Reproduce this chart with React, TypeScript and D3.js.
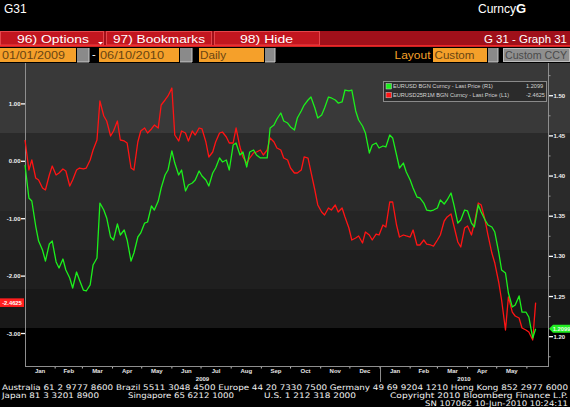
import React from "react";
import * as d3 from "d3";

// ---- DATA ----
const dates: string[] = [
  "2009-01-01","2009-01-05","2009-01-08","2009-01-12","2009-01-15","2009-01-19","2009-01-22","2009-01-26","2009-01-29",
  "2009-02-02","2009-02-05","2009-02-09","2009-02-12","2009-02-16","2009-02-19","2009-02-23","2009-02-26",
  "2009-03-02","2009-03-05","2009-03-09","2009-03-12","2009-03-16","2009-03-19","2009-03-23","2009-03-26","2009-03-30",
  "2009-04-02","2009-04-06","2009-04-09","2009-04-13","2009-04-16","2009-04-20","2009-04-23","2009-04-27","2009-04-30",
  "2009-05-04","2009-05-07","2009-05-11","2009-05-14","2009-05-18","2009-05-21","2009-05-25","2009-05-28",
  "2009-06-01","2009-06-04","2009-06-08","2009-06-11","2009-06-15","2009-06-18","2009-06-22","2009-06-25","2009-06-29",
  "2009-07-02","2009-07-06","2009-07-09","2009-07-13","2009-07-16","2009-07-20","2009-07-23","2009-07-27","2009-07-30",
  "2009-08-03","2009-08-06","2009-08-10","2009-08-13","2009-08-17","2009-08-20","2009-08-24","2009-08-27","2009-08-31",
  "2009-09-03","2009-09-07","2009-09-10","2009-09-14","2009-09-17","2009-09-21","2009-09-24","2009-09-28",
  "2009-10-01","2009-10-05","2009-10-08","2009-10-12","2009-10-15","2009-10-19","2009-10-22","2009-10-26","2009-10-29",
  "2009-11-02","2009-11-05","2009-11-09","2009-11-12","2009-11-16","2009-11-19","2009-11-23","2009-11-26","2009-11-30",
  "2009-12-03","2009-12-07","2009-12-10","2009-12-14","2009-12-17","2009-12-21","2009-12-24","2009-12-28","2009-12-31",
  "2010-01-04","2010-01-07","2010-01-11","2010-01-14","2010-01-18","2010-01-21","2010-01-25","2010-01-28",
  "2010-02-01","2010-02-04","2010-02-08","2010-02-11","2010-02-15","2010-02-18","2010-02-22","2010-02-25",
  "2010-03-01","2010-03-04","2010-03-08","2010-03-11","2010-03-15","2010-03-18","2010-03-22","2010-03-25","2010-03-29",
  "2010-04-01","2010-04-05","2010-04-08","2010-04-12","2010-04-15","2010-04-19","2010-04-22","2010-04-26","2010-04-29",
  "2010-05-03","2010-05-06","2010-05-10","2010-05-13","2010-05-17","2010-05-20","2010-05-24","2010-05-27","2010-05-31",
  "2010-06-03","2010-06-07","2010-06-10",
];

// EURUSD BGN Curncy - Last Price (right axis)
const eurusd: number[] = [
  1.4137,1.3727,1.3689,1.3378,1.3191,1.3079,1.2942,1.3154,1.3191,
  1.2930,1.2855,1.2967,1.2830,1.2731,1.2606,1.2805,1.2706,
  1.2581,1.2569,1.2644,1.2893,1.2980,1.3664,1.3577,1.3478,1.3241,
  1.3204,1.3403,1.3266,1.3328,1.3204,1.2942,1.3042,1.3241,1.3291,
  1.3415,1.3428,1.3627,1.3577,1.3689,1.3851,1.4013,1.4075,
  1.4312,1.4162,1.4013,1.4075,1.3814,1.3889,1.3913,1.3951,1.4063,
  1.4001,1.3951,1.3876,1.4038,1.4100,1.4225,1.4175,1.4200,1.4075,
  1.4386,1.4411,1.4262,1.4299,1.4113,1.4299,1.4324,1.4262,1.4225,
  1.4225,1.4225,1.4598,1.4635,1.4710,1.4785,1.4685,1.4660,
  1.4611,1.4573,1.4723,1.4810,1.4884,1.4947,1.4984,1.4847,1.4723,
  1.4760,1.4847,1.4984,1.4972,1.4947,1.4909,1.4922,1.5071,1.5059,
  1.5071,1.4810,1.4698,1.4623,1.4536,1.4287,1.4386,1.4411,1.4349,
  1.4374,1.4362,1.4511,1.4474,1.4262,1.4100,1.4162,1.4050,
  1.3951,1.3851,1.3739,1.3727,1.3664,1.3577,1.3565,1.3577,
  1.3602,1.3702,1.3652,1.3702,1.3789,1.3640,1.3415,1.3453,1.3577,
  1.3565,1.3415,1.3366,1.3640,1.3552,1.3453,1.3391,1.3366,1.3303,
  1.3054,1.2830,1.2793,1.2544,1.2370,1.2395,1.2507,1.2307,1.2307,
  1.2245,1.1984,1.2099,
];

// EURUSD25R1M BGN Curncy - Last Price (left axis)
const rr25: number[] = [
  0.371,-0.152,0.023,-0.291,-0.326,-0.465,-0.500,-0.239,-0.082,
  -0.239,-0.204,-0.134,-0.169,-0.430,-0.326,-0.152,-0.117,
  -0.134,-0.117,0.023,0.197,0.371,1.051,0.789,0.702,0.441,
  0.528,0.702,0.371,0.354,0.319,-0.117,-0.152,0.336,0.528,
  0.580,0.493,0.563,0.632,0.580,0.981,1.068,1.138,
  1.277,0.458,0.354,0.528,0.493,0.354,0.528,0.458,0.580,
  0.563,0.336,0.075,0.162,0.336,0.493,0.510,0.423,0.319,
  0.319,0.580,0.249,0.075,-0.030,0.057,0.145,0.162,0.197,
  0.110,0.197,0.406,0.336,0.232,0.197,0.057,0.023,
  -0.117,-0.204,-0.204,-0.152,0.075,0.057,-0.186,-0.500,-0.761,
  -0.883,-0.936,-0.814,-0.848,-0.761,-0.883,-0.814,-0.970,-1.162,
  -1.371,-1.336,-1.301,-1.423,-1.232,-1.284,-1.371,-1.267,-1.284,
  -1.110,-1.145,-0.709,-0.709,-1.110,-1.319,-1.284,-1.300,
  -1.319,-1.197,-1.458,-1.458,-1.371,-1.441,-1.458,-1.476,
  -1.371,-1.284,-1.040,-0.970,-0.918,-1.127,-1.406,-1.493,-1.162,
  -1.127,-1.284,-1.075,-0.727,-0.761,-1.023,-1.284,-1.598,-1.772,
  -2.103,-2.416,-2.939,-2.364,-2.626,-2.695,-2.730,-2.904,-2.939,
  -2.974,-3.113,-2.4625,
];

const leftTicks: number[] = [1, 0, -1, -2, -3];
const rightTicks: number[] = [1.5, 1.45, 1.4, 1.35, 1.3, 1.25, 1.2];
const monthLabels: string[] = ["Jan","Feb","Mar","Apr","May","Jun","Jul","Aug","Sep","Oct","Nov","Dec","Jan","Feb","Mar","Apr","May"];
const yearLabels: string[] = ["2009", "2010"];
const legendNames: string[] = ["EURUSD BGN Curncy - Last Price (R1)", "EURUSD25R1M BGN Curncy - Last Price (L1)"];
const legendValues: string[] = ["1.2099", "-2.4625"];

const SANS = "'Liberation Sans', Arial, sans-serif";

export default function App() {
  const W = 570, H = 407;
  const L = 25, R = 548, T = 63, B = 366;
  const parse = d3.timeParse("%Y-%m-%d");
  const dts = dates.map((s) => parse(s) as Date);
  const n = Math.min(dts.length, eurusd.length, rr25.length);

  const x = d3.scaleTime().domain([new Date(2009, 0, 1), new Date(2010, 5, 22, 17)]).range([L, R]);
  const yL = d3.scaleLinear().domain([-3.566, 1.695]).range([B, 64]);
  const yR = d3.scaleLinear().domain([1.1635, 1.5395]).range([B, 64]);

  const idx = d3.range(n);
  const greenPath = d3.line<number>().x((i) => x(dts[i])).y((i) => yR(eurusd[i]))(idx) || "";
  const redPath = d3.line<number>().x((i) => x(dts[i])).y((i) => yL(rr25[i]))(idx) || "";

  const monthStarts = d3.timeMonth.range(new Date(2009, 0, 1), new Date(2010, 5, 2));
  const monthCenters = monthStarts.slice(0, monthLabels.length).map((m) => (x(m) + x(d3.timeMonth.offset(m, 1))) / 2);
  const yearStarts = [new Date(2009, 0, 1), new Date(2010, 0, 1)];
  const yearCenters = [(x(yearStarts[0]) + x(yearStarts[1])) / 2, (x(yearStarts[1]) + R) / 2];

  const minorRight = d3.range(1.175, 1.53, 0.05);

  const bands = [
    { y0: T, y1: 133, c: "#393939" },
    { y0: 133, y1: 211, c: "#2a2a2a" },
    { y0: 211, y1: 250, c: "#252525" },
    { y0: 250, y1: 289, c: "#1f1f1f" },
    { y0: 289, y1: 328, c: "#181818" },
    { y0: 328, y1: 384, c: "#000000" },
  ];

  const lastG = eurusd[n - 1];
  const lastR = rr25[n - 1];
  const gy = yR(lastG);
  const ry = yL(lastR);

  const orange = "#f5a02a";
  const orangeText = "#6a4512";

  return (
    <svg width={W} height={H} style={{ position: "fixed", left: 0, top: 0, display: "block" }} fontFamily={SANS}>
      <rect x={0} y={0} width={W} height={H} fill="#000" />

      {/* header */}
      <text x={4} y={13} fill="#fff" fontSize={12}>G31</text>
      <text x={478} y={13} fill="#fff" fontSize={12}>Curncy<tspan fontWeight="bold" fontSize={13}>G</tspan></text>

      {/* red menu bar */}
      <rect x={0} y={31} width={W} height={15} fill="#a0101a" />
      {[[0, 104], [106, 212], [214, 320]].map(([a, b], i) => (
        <rect key={i} x={a + 0.5} y={31.5} width={b - a - 1} height={13.5} fill="#c2161f" stroke="#e5454b" strokeWidth={1} />
      ))}
      <rect x={0} y={45.2} width={W} height={1.6} fill="#ff2d2d" />
      <text x={17} y={42.5} fill="#fff" fontSize={11} textLength={72} lengthAdjust="spacingAndGlyphs">96)  Options</text>
      <path d="M98,42 L103,42 L100.5,44.5 Z" fill="#fff" />
      <text x={113} y={42.5} fill="#fff" fontSize={11} textLength={92} lengthAdjust="spacingAndGlyphs">97)  Bookmarks</text>
      <text x={240} y={42.5} fill="#fff" fontSize={11} textLength={53} lengthAdjust="spacingAndGlyphs">98)  Hide</text>
      <text x={567} y={42.5} fill="#fff" fontSize={11} textAnchor="end" textLength={83} lengthAdjust="spacingAndGlyphs">G 31 - Graph 31</text>

      {/* orange parameter row */}
      {[[0, 76], [99, 179], [199, 264], [433, 487]].map(([a, b], i) => (
        <rect key={"o" + i} x={a} y={48} width={b - a} height={14} fill={orange} />
      ))}
      {[[77, 89], [180, 192], [265, 275], [488, 498]].map(([a, b], i) => (
        <g key={"g" + i}>
          <rect x={a} y={48} width={b - a} height={14} fill="#8a8a8a" />
          <path d={`M${a},62 L${b},62 L${b},48`} stroke="#c8c8c8" strokeWidth={1} fill="none" />
        </g>
      ))}
      <rect x={503.5} y={48.5} width={66} height={13} fill="#8f8f8f" stroke="#bdbdbd" strokeWidth={1} />
      <text x={2} y={59} fill={orangeText} fontSize={11} textLength={63} lengthAdjust="spacingAndGlyphs">01/01/2009</text>
      <text x={92} y={58} fill="#fff" fontSize={11}>-</text>
      <text x={100} y={59} fill={orangeText} fontSize={11} textLength={64} lengthAdjust="spacingAndGlyphs">06/10/2010</text>
      <text x={200} y={59} fill={orangeText} fontSize={11} textLength={26} lengthAdjust="spacingAndGlyphs">Daily</text>
      <text x={394.5} y={59} fill={orange} fontSize={11} textLength={36} lengthAdjust="spacingAndGlyphs">Layout</text>
      <text x={434.5} y={59} fill={orangeText} fontSize={11} textLength={40} lengthAdjust="spacingAndGlyphs">Custom</text>
      <text x={505} y={59} fill="#4a4a4a" fontSize={11} textLength={62} lengthAdjust="spacingAndGlyphs">Custom CCY</text>

      {/* background bands */}
      {bands.map((b, i) => (
        <rect key={"b" + i} x={0} y={b.y0} width={W} height={b.y1 - b.y0} fill={b.c} />
      ))}

      {/* axes frame */}
      <line x1={L + 0.5} x2={L + 0.5} y1={T} y2={B + 0.5} stroke="#8e8e8e" strokeWidth={1} />
      <line x1={R + 0.5} x2={R + 0.5} y1={T} y2={B + 0.5} stroke="#8e8e8e" strokeWidth={1} />
      <line x1={L} x2={R + 1} y1={B + 0.5} y2={B + 0.5} stroke="#8e8e8e" strokeWidth={1} />

      {/* left axis */}
      {leftTicks.map((t) => (
        <g key={"l" + t}>
          <line x1={21} x2={25} y1={yL(t)} y2={yL(t)} stroke="#fff" strokeWidth={1.3} />
          <text x={20.5} y={yL(t) + 2} fill="#f0f0f0" fontSize={6} fontWeight="bold" textAnchor="end">{t.toFixed(2)}</text>
        </g>
      ))}

      {/* right axis */}
      {minorRight.map((t, i) => (
        <line key={"m" + i} x1={548.5} x2={550.5} y1={yR(t)} y2={yR(t)} stroke="#9a9a9a" strokeWidth={1} />
      ))}
      {rightTicks.map((t) => (
        <g key={"r" + t}>
          <line x1={549} x2={553} y1={yR(t)} y2={yR(t)} stroke="#fff" strokeWidth={1.3} />
          <text x={553.5} y={yR(t) + 2} fill="#f0f0f0" fontSize={6} fontWeight="bold">{t.toFixed(2)}</text>
        </g>
      ))}

      {/* x axis */}
      {monthStarts.slice(1).map((m, i) => (
        <line key={"t" + i} x1={x(m)} x2={x(m)} y1={B + 1} y2={B + 2.5} stroke="#bbb" strokeWidth={1} />
      ))}
      {monthLabels.map((lab, i) => (
        <text key={"ml" + i} x={monthCenters[i]} y={373} fill="#e6e6e6" fontSize={6} fontWeight="bold" textAnchor="middle">{lab}</text>
      ))}
      <line x1={x(yearStarts[1]) + 0.5} x2={x(yearStarts[1]) + 0.5} y1={B + 1} y2={382} stroke="#8e8e8e" strokeWidth={1} />
      {yearLabels.map((lab, i) => (
        <text key={"yl" + i} x={yearCenters[i]} y={380.5} fill="#e6e6e6" fontSize={6} fontWeight="bold" textAnchor="middle">{lab}</text>
      ))}

      {/* series */}
      <path d={redPath} fill="none" stroke="#ff1414" strokeWidth={1.3} strokeLinejoin="round" />
      <path d={greenPath} fill="none" stroke="#1cf01c" strokeWidth={1.3} strokeLinejoin="round" />

      {/* last value labels */}
      <rect x={0} y={ry - 4.3} width={24} height={8.6} fill="#ff1e1e" />
      <text x={12} y={ry + 2} fill="#fff" fontSize={5.8} fontWeight="bold" textAnchor="middle">{lastR.toFixed(4)}</text>
      <path d={`M549,${gy} L553,${gy - 4} L570,${gy - 4} L570,${gy + 4} L553,${gy + 4} Z`} fill="#22ee22" />
      <text x={561.5} y={gy + 2} fill="#eaffea" fontSize={5.8} fontWeight="bold" textAnchor="middle">{lastG.toFixed(4)}</text>

      {/* legend */}
      <rect x={383.5} y={81.5} width={163} height={20} fill="#2b2b2b" stroke="#8a8a8a" strokeWidth={1} />
      <rect x={386} y={83.5} width={5.5} height={5.5} fill="#1cf01c" stroke="#cfcfcf" strokeWidth={0.5} />
      <rect x={386} y={92.3} width={5.5} height={5.5} fill="#ff1414" stroke="#cfcfcf" strokeWidth={0.5} />
      <text x={393} y={88.4} fill="#d4d4d4" fontSize={5.6} textLength={100} lengthAdjust="spacingAndGlyphs">{legendNames[0]}</text>
      <text x={393} y={97.2} fill="#d4d4d4" fontSize={5.6} textLength={116} lengthAdjust="spacingAndGlyphs">{legendNames[1]}</text>
      <text x={526} y={88.4} fill="#d4d4d4" fontSize={5.6}>{legendValues[0]}</text>
      <text x={526} y={97.2} fill="#d4d4d4" fontSize={5.6}>{legendValues[1]}</text>

      {/* footer */}
      <g fill="#f2f2f2" fontSize={7.6} fontFamily="'DejaVu Sans', sans-serif">
        <text x={2} y={389.5} textLength={566} lengthAdjust="spacingAndGlyphs">Australia 61 2 9777 8600 Brazil 5511 3048 4500 Europe 44 20 7330 7500 Germany 49 69 9204 1210 Hong Kong 852 2977 6000</text>
        <text x={2} y={398} textLength={97} lengthAdjust="spacingAndGlyphs">Japan 81 3 3201 8900</text>
        <text x={128} y={398} textLength={106} lengthAdjust="spacingAndGlyphs">Singapore 65 6212 1000</text>
        <text x={264} y={398} textLength={92} lengthAdjust="spacingAndGlyphs">U.S. 1 212 318 2000</text>
        <text x={390} y={398} textLength={178} lengthAdjust="spacingAndGlyphs">Copyright 2010 Bloomberg Finance L.P.</text>
        <text x={425} y={405.5} textLength={143} lengthAdjust="spacingAndGlyphs">SN 107062 10-Jun-2010 10:24:11</text>
      </g>
    </svg>
  );
}
